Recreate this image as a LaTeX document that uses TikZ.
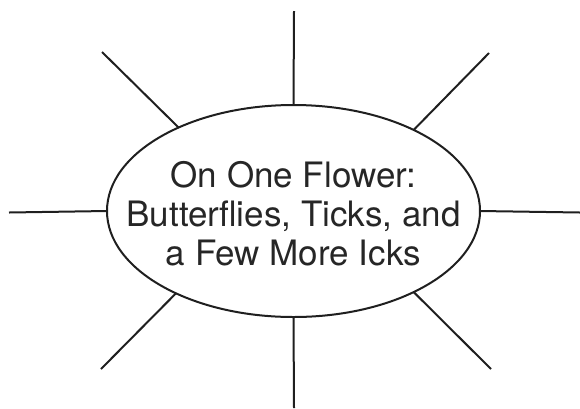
\documentclass[tikz,border=0pt]{standalone}
\usepackage{fontspec}
\setmainfont{TeX Gyre Heros}
\usetikzlibrary{shapes.geometric}
\begin{document}
\begin{tikzpicture}[x=1pt,y=-1pt,
  ray/.style={line width=2pt, draw=black!88},
  flower/.style={ellipse, draw=black!88, line width=2pt, minimum width=373pt, minimum height=212pt, inner sep=0pt, outer sep=0pt},
  title/.style={align=center, font=\fontsize{35}{39}\selectfont, text=black!85}]
\useasboundingbox (0,0) rectangle (580,408);
\node[flower] (c) at (293.5,211) {};
\node[title] (t) at (293.5,214) {On One Flower:\\Butterflies, Ticks, and\\a Few More Icks};
\coordinate (top) at (294,11);
\coordinate (bot) at (294,408);
\coordinate (lft) at (9,212.5);
\coordinate (rgt) at (580,212.5);
\coordinate (ul) at (102,52);
\coordinate (ur) at (489,53);
\coordinate (ll) at (101,369);
\coordinate (lr) at (491,369);
\draw[ray] (c.north) -- (top);
\draw[ray] (c.south) -- (bot);
\draw[ray] (c.west) -- (lft);
\draw[ray] (c.east) -- (rgt);
\draw[ray] (c.144.5) -- (ul);
\draw[ray] (c.34.8) -- (ur);
\draw[ray] (c.215.1) -- (ll);
\draw[ray] (c.326) -- (lr);
\end{tikzpicture}
\end{document}
